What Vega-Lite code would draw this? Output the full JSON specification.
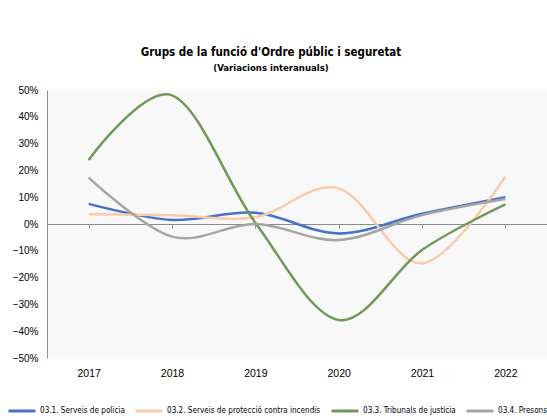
{
  "$schema": "https://vega.github.io/schema/vega-lite/v6.json",
  "width": 500,
  "height": 268,
  "autosize": {"type": "none"},
  "padding": {"left": 47, "top": 90, "right": 0, "bottom": 61},
  "background": "white",
  "config": {"view": {"fill": "#f8f8f8", "stroke": null}, "font": "Liberation Sans"},
  "title": {
    "text": "Grups de la funció d'Ordre públic i seguretat",
    "subtitle": "(Variacions interanuals)",
    "font": "DejaVu Sans Condensed, Liberation Sans",
    "fontSize": 11.5,
    "fontWeight": "bold",
    "color": "#000000",
    "subtitleFont": "DejaVu Sans Condensed, Liberation Sans",
    "subtitleFontSize": 9.5,
    "subtitleFontWeight": "bold",
    "subtitleColor": "#000000",
    "subtitlePadding": 4,
    "anchor": "middle",
    "dx": -26,
    "offset": 13
  },
  "data": {
    "values": [
      {"year": "2017", "series": "03.1. Serveis de policia", "value": 0.075},
      {"year": "2018", "series": "03.1. Serveis de policia", "value": 0.015},
      {"year": "2019", "series": "03.1. Serveis de policia", "value": 0.042},
      {"year": "2020", "series": "03.1. Serveis de policia", "value": -0.035},
      {"year": "2021", "series": "03.1. Serveis de policia", "value": 0.038},
      {"year": "2022", "series": "03.1. Serveis de policia", "value": 0.10},
      {"year": "2017", "series": "03.2. Serveis de protecció contra incendis", "value": 0.036},
      {"year": "2018", "series": "03.2. Serveis de protecció contra incendis", "value": 0.033},
      {"year": "2019", "series": "03.2. Serveis de protecció contra incendis", "value": 0.025},
      {"year": "2020", "series": "03.2. Serveis de protecció contra incendis", "value": 0.133},
      {"year": "2021", "series": "03.2. Serveis de protecció contra incendis", "value": -0.147},
      {"year": "2022", "series": "03.2. Serveis de protecció contra incendis", "value": 0.177},
      {"year": "2017", "series": "03.3. Tribunals de justícia", "value": 0.239},
      {"year": "2018", "series": "03.3. Tribunals de justícia", "value": 0.48},
      {"year": "2019", "series": "03.3. Tribunals de justícia", "value": 0.005},
      {"year": "2020", "series": "03.3. Tribunals de justícia", "value": -0.358},
      {"year": "2021", "series": "03.3. Tribunals de justícia", "value": -0.097},
      {"year": "2022", "series": "03.3. Tribunals de justícia", "value": 0.073},
      {"year": "2017", "series": "03.4. Presons", "value": 0.173},
      {"year": "2018", "series": "03.4. Presons", "value": -0.047},
      {"year": "2019", "series": "03.4. Presons", "value": 0.0},
      {"year": "2020", "series": "03.4. Presons", "value": -0.06},
      {"year": "2021", "series": "03.4. Presons", "value": 0.033},
      {"year": "2022", "series": "03.4. Presons", "value": 0.093}
    ]
  },
  "layer": [
    {
      "mark": {"type": "point", "opacity": 0},
      "encoding": {
        "x": {
          "field": "year", "type": "ordinal",
          "scale": {"paddingInner": 0, "paddingOuter": 0},
          "axis": {"orient": "bottom", "offset": -134, "labels": false, "domain": true, "domainColor": "#8c8c8c", "ticks": true, "tickSize": 4, "tickColor": "#8c8c8c", "bandPosition": 0, "title": null, "grid": false}
        },
        "y": {
          "field": "value", "type": "quantitative",
          "scale": {"domain": [-0.5, 0.5], "nice": false},
          "axis": {"values": [-0.5, -0.4, -0.3, -0.2, -0.1, 0, 0.1, 0.2, 0.3, 0.4, 0.5], "format": ".0%", "labelOverlap": false, "grid": false, "ticks": false, "domainColor": "#8c8c8c", "labelColor": "#000000", "labelFontSize": 10, "labelPadding": 9, "title": null}
        }
      }
    },
    {
      "mark": {"type": "line", "interpolate": "cardinal", "strokeWidth": 2.5},
      "encoding": {
        "x": {
          "field": "year", "type": "ordinal",
          "axis": {"orient": "bottom", "domain": false, "ticks": false, "labelAngle": 0, "labelFontSize": 10.5, "labelColor": "#000000", "labelPadding": 10, "title": null, "grid": false}
        },
        "y": {
          "field": "value", "type": "quantitative",
          "axis": {"values": [-0.5, -0.4, -0.3, -0.2, -0.1, 0, 0.1, 0.2, 0.3, 0.4, 0.5], "format": ".0%", "labelOverlap": false, "grid": false, "ticks": false, "domainColor": "#8c8c8c", "labelColor": "#000000", "labelFontSize": 10, "labelPadding": 9, "title": null}
        },
        "color": {
          "field": "series", "type": "nominal",
          "scale": {
            "domain": ["03.1. Serveis de policia", "03.2. Serveis de protecció contra incendis", "03.3. Tribunals de justícia", "03.4. Presons"],
            "range": ["#4472C4", "#F8CBAD", "#70995A", "#A5A5A5"]
          },
          "legend": {
            "orient": "none", "legendX": -40, "legendY": 306, "direction": "horizontal",
            "title": null, "symbolType": "stroke", "symbolSize": 729, "symbolStrokeWidth": 3,
            "labelFont": "DejaVu Sans Condensed, Liberation Sans", "labelFontSize": 8.1, "labelLimit": 400, "labelColor": "#000000", "columnPadding": 4, "labelOffset": 3
          }
        }
      }
    }
  ],
  "resolve": {"axis": {"x": "independent"}}
}
